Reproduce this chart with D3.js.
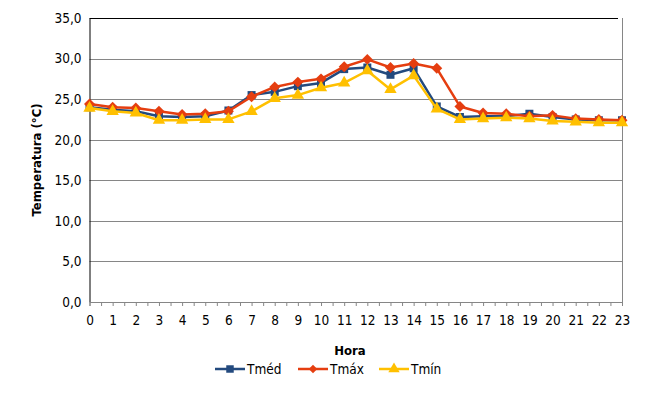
<!DOCTYPE html>
<html>
<head>
<meta charset="utf-8">
<script src="https://cdn.jsdelivr.net/npm/d3@7"></script>
<style>
  html, body { margin: 0; padding: 0; background: #fff; }
  svg text { font-family: 'DejaVu Sans Condensed', 'DejaVu Sans', sans-serif; font-stretch: condensed; fill: #000; }
</style>
</head>
<body>
<svg id="chart" width="666" height="402"></svg>
<script>
// hourly temperatures (°C)
const hours = d3.range(0, 24);
const tMed = [24.0, 23.7, 23.5, 22.9, 22.8, 22.9, 23.6, 25.5, 25.9, 26.6, 27.0, 28.7,
              28.9, 28.0, 28.8, 24.1, 22.8, 22.9, 22.9, 23.2, 22.8, 22.5, 22.4, 22.4];
const tMax = [24.4, 24.0, 23.9, 23.5, 23.1, 23.2, 23.5, 25.3, 26.5, 27.1, 27.5, 29.0,
              29.9, 28.9, 29.4, 28.8, 24.1, 23.3, 23.2, 22.9, 23.0, 22.6, 22.5, 22.4];
const tMin = [23.9, 23.5, 23.3, 22.4, 22.4, 22.5, 22.5, 23.5, 25.1, 25.5, 26.4, 27.0,
              28.5, 26.2, 27.9, 23.8, 22.5, 22.6, 22.7, 22.6, 22.3, 22.2, 22.1, 22.1];
const yTicks = [0, 5, 10, 15, 20, 25, 30, 35];

// square-shaped diamond (Excel style), d3's own diamond is too narrow
const diamond = {
  draw(ctx, size) {
    const r = Math.sqrt(size / 2);
    ctx.moveTo(0, -r); ctx.lineTo(r, 0); ctx.lineTo(0, r); ctx.lineTo(-r, 0); ctx.closePath();
  }
};

const series = [
  { name: 'Tméd', values: tMed, color: '#234A7E', symbol: d3.symbolSquare, size: 64, legendSize: 56 },
  { name: 'Tmáx', values: tMax, color: '#E53E10', symbol: diamond, size: 60, legendSize: 36 },
  { name: 'Tmín', values: tMin, color: '#FFC000', symbol: d3.symbolTriangle, size: 66, legendSize: 56 }
];

const svg = d3.select('#chart');
const plot = { left: 89.5, right: 622, top: 18, bottom: 302 };

const x = d3.scaleLinear().domain([0, 23]).range([plot.left, plot.right]);
const y = d3.scaleLinear().domain([0, 35]).range([plot.bottom, plot.top]);
const fmt = d => d.toFixed(1).replace('.', ',');

// gridlines
svg.append('g')
  .selectAll('line')
  .data(yTicks.filter(d => d > 0 && d < 35))
  .join('line')
  .attr('x1', plot.left).attr('x2', plot.right)
  .attr('y1', d => Math.round(y(d)) + 0.5).attr('y2', d => Math.round(y(d)) + 0.5)
  .attr('stroke', '#868686');

// plot border: top black, right grey
svg.append('line').attr('x1', plot.left).attr('x2', plot.right - 4)
  .attr('y1', plot.top + 0.5).attr('y2', plot.top + 0.5).attr('stroke', '#000');
svg.append('line').attr('x1', plot.right + 0.5).attr('x2', plot.right + 0.5)
  .attr('y1', plot.top).attr('y2', plot.bottom).attr('stroke', '#868686');

// y axis
const yAxis = svg.append('g')
  .attr('transform', `translate(${plot.left},0)`)
  .call(d3.axisLeft(y).tickValues(yTicks).tickFormat(fmt).tickSize(0).tickPadding(8));
yAxis.select('.domain').attr('stroke', '#000');
yAxis.selectAll('text').attr('font-size', 13.5).style('font-family', null);

// x axis
const xAxis = svg.append('g')
  .attr('transform', `translate(0,${plot.bottom})`)
  .call(d3.axisBottom(x).tickValues(d3.range(0, 23.5, 0.5)).tickSize(4)
    .tickFormat(d => Number.isInteger(d) ? d : ''));
xAxis.select('.domain').attr('stroke', '#868686');
xAxis.selectAll('.tick line').attr('stroke', '#868686');
xAxis.selectAll('text').attr('font-size', 13.5).attr('dy', '1.15em').style('font-family', null);

// titles
svg.append('text')
  .attr('transform', `translate(41,${(plot.top + plot.bottom) / 2}) rotate(-90)`)
  .attr('text-anchor', 'middle')
  .attr('font-weight', 'bold').attr('font-size', 13)
  .text('Temperatura (°C)');
svg.append('text')
  .attr('x', 350).attr('y', 355)
  .attr('text-anchor', 'middle')
  .attr('font-weight', 'bold').attr('font-size', 13)
  .text('Hora');

// series
const line = d3.line().x((d, i) => x(hours[i])).y(d => y(d));
series.forEach(s => {
  const g = svg.append('g');
  g.append('path')
    .attr('d', line(s.values))
    .attr('fill', 'none')
    .attr('stroke', s.color)
    .attr('stroke-width', 2.5)
    .attr('stroke-linejoin', 'round');
  g.selectAll('path.mark')
    .data(s.values)
    .join('path')
    .attr('class', 'mark')
    .attr('transform', (d, i) => `translate(${x(hours[i])},${y(d)})`)
    .attr('d', d3.symbol().type(s.symbol).size(s.size))
    .attr('fill', s.color);
});

// legend
const legendX = [215, 298, 379];
series.forEach((s, i) => {
  const g = svg.append('g').attr('transform', `translate(${legendX[i]},369)`);
  g.append('line').attr('x1', 0).attr('x2', 30).attr('stroke', s.color).attr('stroke-width', 2.5);
  g.append('path').attr('transform', 'translate(15,0)')
    .attr('d', d3.symbol().type(s.symbol).size(s.legendSize)).attr('fill', s.color);
  g.append('text').attr('x', 32).attr('y', 0).attr('dy', '0.35em')
    .attr('font-size', 13.5).text(s.name);
});
</script>
</body>
</html>
